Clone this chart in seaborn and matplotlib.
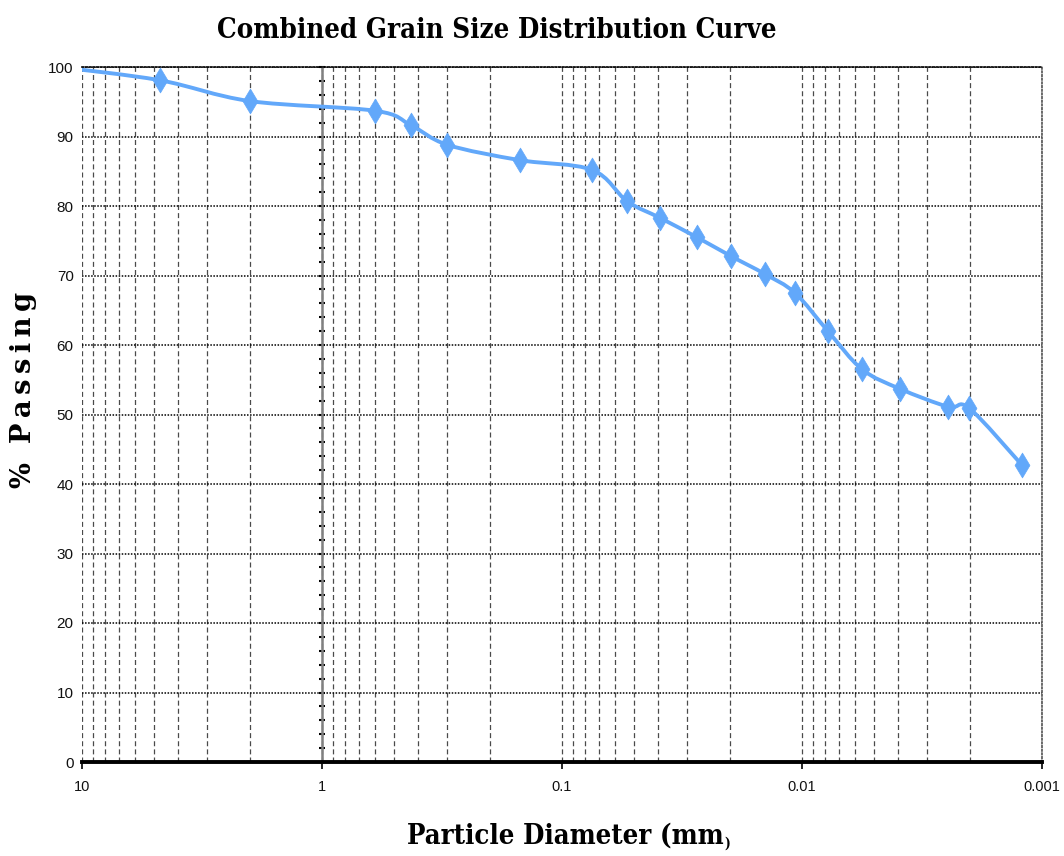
import numpy as np
import pandas as pd
import matplotlib
matplotlib.use("Agg")
import matplotlib.pyplot as plt
import seaborn as sns
from matplotlib import font_manager as fm
from matplotlib.path import Path
from matplotlib.patches import PathPatch
from matplotlib.ticker import (FixedLocator, FixedFormatter, MultipleLocator,
                               LogLocator, NullFormatter)

# Combined sieve + hydrometer results
diameter_mm = [12.5, 4.75, 2.0, 0.6, 0.425, 0.3, 0.15, 0.075,
               0.0536, 0.0391, 0.0274, 0.0198, 0.01426, 0.0107,
               0.0078, 0.00562, 0.00391, 0.00246, 0.00201, 0.00121]
percent_passing = [100.0, 98.1, 95.1, 93.7, 91.6, 88.8, 86.6, 85.2,
                   80.7, 78.3, 75.5, 72.8, 70.2, 67.5,
                   62.0, 56.5, 53.7, 51.1, 50.9, 42.7]

x_tick_values = [10, 1, 0.1, 0.01, 0.001]
x_tick_labels = ["10", "1", "0.1", "0.01", "0.001"]
y_tick_values = list(range(0, 101, 10))

title_text = "Combined Grain Size Distribution Curve"
xlabel_text = "Particle Diameter (mm"
ylabel_text = "%  P\u2009a\u2009s\u2009s\u2009i\u2009n\u2009g"

sns.set_theme(style="white")

# ---- font selection -------------------------------------------------------
entries = fm.fontManager.ttflist
names = {f.name for f in entries}
has_cond_serif = any(f.name == "DejaVu Serif" and str(f.stretch) == "condensed"
                     for f in entries)
if has_cond_serif:
    head_font = dict(family="DejaVu Serif", stretch="condensed", weight="bold")
else:
    head_font = dict(family="Liberation Serif", weight="bold")
tick_family = "Liberation Sans Narrow" if "Liberation Sans Narrow" in names else "Liberation Sans"
plt.rcParams["font.family"] = [tick_family, "DejaVu Sans"]

LINE_BLUE = "#62A8FA"

fig = plt.figure(figsize=(10.64, 8.56), dpi=100)
W, H = 1064, 856
ax = fig.add_axes([82 / W, 1 - 762 / H, 960 / W, 695 / H])

df = pd.DataFrame({"diameter": diameter_mm, "passing": percent_passing})

ax.set_xscale("log")
ax.set_xlim(10, 0.001)
ax.set_ylim(0, 100)

# smoothed curve through the points (Catmull-Rom as cubic Beziers in log-x space)
lx = np.log10(df["diameter"].to_numpy())
yy = df["passing"].to_numpy()
n = len(lx)
verts = [(10 ** lx[0], yy[0])]
codes = [Path.MOVETO]
for i in range(n - 1):
    a, b = max(i - 1, 0), min(i + 2, n - 1)
    c1 = (lx[i] + (lx[i + 1] - lx[a]) / 6, yy[i] + (yy[i + 1] - yy[a]) / 6)
    c2 = (lx[i + 1] - (lx[b] - lx[i]) / 6, yy[i + 1] - (yy[b] - yy[i]) / 6)
    verts += [(10 ** c1[0], c1[1]), (10 ** c2[0], c2[1]), (10 ** lx[i + 1], yy[i + 1])]
    codes += [Path.CURVE4] * 3
curve = PathPatch(Path(verts, codes), transform=ax.transData, fill=False,
                  edgecolor=LINE_BLUE, linewidth=2.8, zorder=3,
                  capstyle="round", joinstyle="round")
ax.add_patch(curve)

sns.scatterplot(data=df, x="diameter", y="passing", marker="d", s=160,
                color=LINE_BLUE, edgecolor=LINE_BLUE, linewidth=0.5,
                zorder=4, ax=ax, legend=False)
ax.set_xlim(10, 0.001)
ax.set_ylim(0, 100)
ax.set_xlabel("")
ax.set_ylabel("")

# ---- grid -----------------------------------------------------------------
ax.xaxis.set_major_locator(FixedLocator(x_tick_values))
ax.xaxis.set_major_formatter(FixedFormatter(x_tick_labels))
ax.xaxis.set_minor_locator(LogLocator(base=10, subs=np.arange(2, 10)))
ax.xaxis.set_minor_formatter(NullFormatter())
ax.yaxis.set_major_locator(FixedLocator(y_tick_values))
ax.yaxis.set_minor_locator(MultipleLocator(2))
ax.grid(True, which="both", axis="x", color="#4a4a4a",
        linestyle=(0, (4, 2.5)), linewidth=0.9)
ax.grid(True, which="major", axis="y", color="black",
        linestyle=(0, (1, 1)), linewidth=1.1)
ax.set_axisbelow(True)

# ---- spines / ticks ---------------------------------------------------------
ax.spines["left"].set_position(("data", 1))
ax.spines["left"].set_color("#808080")
ax.spines["left"].set_linewidth(1.8)
ax.spines["bottom"].set_color("black")
ax.spines["bottom"].set_linewidth(2.8)
ax.spines["top"].set_color("black")
ax.spines["top"].set_linewidth(1.2)
ax.spines["top"].set_linestyle((0, (1, 1.2)))
ax.spines["right"].set_color("#444444")
ax.spines["right"].set_linewidth(1.1)
ax.spines["right"].set_linestyle((0, (1, 1.4)))

ax.tick_params(axis="y", which="both", direction="inout", length=5, width=1.5,
               color="black", left=True, labelleft=False)
ax.tick_params(axis="x", which="major", direction="out", length=5, width=1.2,
               color="black", bottom=True, pad=8, labelsize=10.5,
               labelcolor="#111111")
ax.tick_params(axis="x", which="minor", length=0)

sec = ax.secondary_yaxis(0)
sec.set_yticks(y_tick_values)
sec.tick_params(length=0, pad=6, labelsize=11, labelcolor="#111111")
for s in sec.spines.values():
    s.set_visible(False)

# ---- titles -----------------------------------------------------------------
def fit(t, target_px, max_size, vertical=False):
    fig.canvas.draw()
    bb = t.get_window_extent(fig.canvas.get_renderer())
    cur = bb.height if vertical else bb.width
    t.set_fontsize(min(t.get_fontsize() * target_px / cur, max_size))

title = fig.text((285 + 708) / 2 / W, 1 - 30 / H, title_text, ha="center",
                 va="center", fontsize=24, color="black", **head_font)
fit(title, 560, 30)

xlab_center = 565
xlab = fig.text(xlab_center / W, 1 - 836 / H, xlabel_text, ha="center",
                va="center", fontsize=22, color="black", **head_font)
fit(xlab, 315, 30)
fig.canvas.draw()
bb = xlab.get_window_extent(fig.canvas.get_renderer())
fig.text((bb.x1 + 1) / W, 1 - 844 / H, ")", ha="left", va="center",
         fontsize=xlab.get_fontsize() * 0.5, color="black", **head_font)

ylab = fig.text(24 / W, 1 - 390 / H, ylabel_text, ha="center", va="center",
                rotation=90, fontsize=22, color="black",
                family="DejaVu Serif", weight="bold")
fit(ylab, 196, 26, vertical=True)

fig.savefig("out.png", dpi=100)
